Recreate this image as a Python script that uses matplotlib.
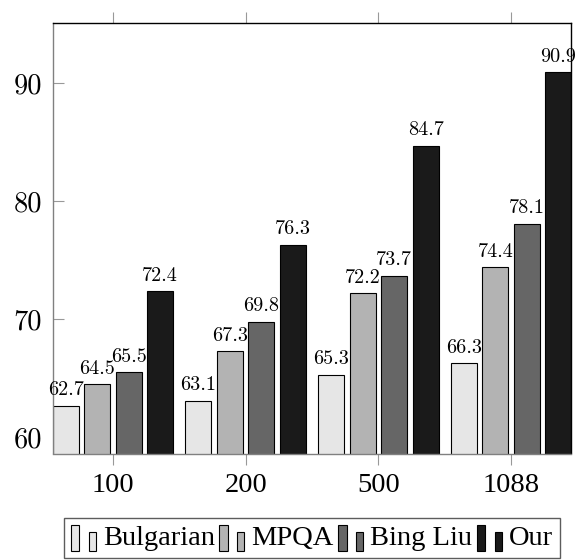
import matplotlib
matplotlib.use("Agg")
import matplotlib.pyplot as plt
from matplotlib.patches import Rectangle
from matplotlib.legend_handler import HandlerBase
import numpy as np

categories = ["100", "200", "500", "1088"]
series_names = ["Bulgarian", "MPQA", "Bing Liu", "Our"]
bulgarian = [62.7, 63.1, 65.3, 66.3]
mpqa = [64.5, 67.3, 72.2, 74.4]
bing_liu = [65.5, 69.8, 73.7, 78.1]
our = [72.4, 76.3, 84.7, 90.9]
yticks = [60, 70, 80, 90]

colors = ["#e6e6e6", "#b3b3b3", "#666666", "#1a1a1a"]
series = [bulgarian, mpqa, bing_liu, our]

fig = plt.figure(figsize=(5.77, 5.60), dpi=100)
ax = fig.add_axes([53/577, 1-453.5/560, 518/577, 430.5/560])

x = np.arange(len(categories))
stride = 0.2375
width = 0.196
proxies = []
for i, (vals, name, c) in enumerate(zip(series, series_names, colors)):
    pos = x + (i - 1.5) * stride
    ax.bar(pos, np.array(vals) - 50, bottom=50, width=width, color=c,
           edgecolor="black", linewidth=0.8, label=name, zorder=2)
    proxies.append(Rectangle((0, 0), 1, 1, facecolor=c, edgecolor="black"))
    for p, v in zip(pos, vals):
        ax.annotate(f"{v:.1f}", (p, v), xytext=(0, 7.5), textcoords="offset points",
                    ha="center", va="baseline", fontsize=14.5, family="cmr10", zorder=3)

ax.set_xlim(-0.452, 3.452)
ax.set_ylim(58.64, 95.08)
ax.set_xticks(x)
ax.set_xticklabels(categories, family="Liberation Serif", fontsize=20.5)
ax.set_yticks(yticks)
ax.set_yticklabels([str(t) for t in yticks], family="cmr10", fontsize=20.5)
ax.tick_params(axis="x", direction="out", length=8, width=0.8, color="#999999",
               top=True, bottom=True, pad=6)
ax.tick_params(axis="y", direction="in", length=8, width=0.8, color="#999999",
               left=True, right=False, pad=8)
for s in ["left", "bottom"]:
    ax.spines[s].set_color("#808080")
for s in ["top", "right"]:
    ax.spines[s].set_color("black")
for s in ax.spines.values():
    s.set_linewidth(1.0)


class TwoBar(HandlerBase):
    def create_artists(self, legend, orig_handle, xdescent, ydescent, width, height,
                       fontsize, trans):
        fc = orig_handle.get_facecolor()
        w = width
        h = height
        r1 = Rectangle((-xdescent, -ydescent - 0.3 * h), 0.33 * w, 1.3 * h,
                       facecolor=fc, edgecolor="black", linewidth=0.8, transform=trans)
        r2 = Rectangle((-xdescent + 0.72 * w, -ydescent - 0.3 * h), 0.28 * w, 0.93 * h,
                       facecolor=fc, edgecolor="black", linewidth=0.8, transform=trans)
        return [r1, r2]


leg = fig.legend(proxies, series_names, loc="upper center",
                 bbox_to_anchor=(312/577, 1-518/560),
                 ncol=4, frameon=True, fancybox=False, edgecolor="#333333",
                 prop={"family": "Liberation Serif", "size": 20.5},
                 handler_map={Rectangle: TwoBar()},
                 handlelength=0.88, handletextpad=0.25, columnspacing=0.15,
                 borderpad=0.25, borderaxespad=0)
leg.get_frame().set_linewidth(1.0)

fig.savefig("out.png", dpi=100)
